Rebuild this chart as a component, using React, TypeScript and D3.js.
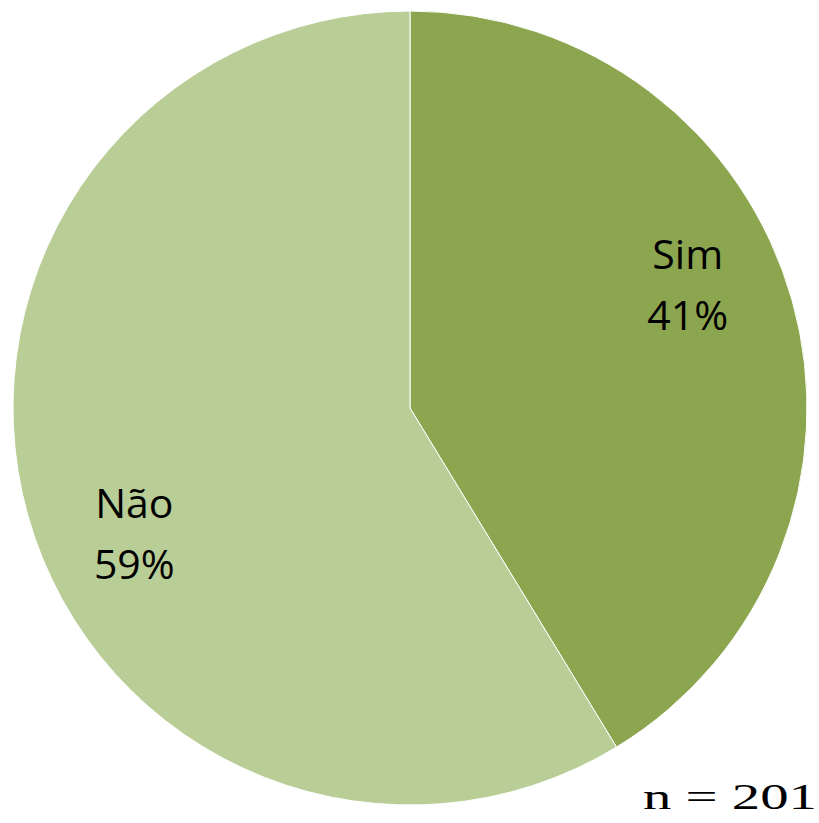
import React from "react";
import * as d3 from "d3";

const categories = ["Sim", "Não"];
const values = [83, 118];
const colors = ["#8BA64F", "#B9CE96"];
const totalLabel = "n = 201";

const W = 819;
const H = 823;
const cx = 410;
const cy = 408;
const R = 397;
// layout: label radius and per-slice nudge (px) to mimic the original placement
const LABEL_R = 304;
const labelNudge: [number, number][] = [
  [-15, -41],
  [17, 44],
];

export default function App() {
  const total = d3.sum(values);
  const pie = d3
    .pie<number>()
    .sort(null)
    .value((d) => d);
  const arcs = pie(values);
  const arcGen = d3.arc<d3.PieArcDatum<number>>().innerRadius(0).outerRadius(R);
  const labelArc = d3
    .arc<d3.PieArcDatum<number>>()
    .innerRadius(LABEL_R)
    .outerRadius(LABEL_R);

  return (
    <svg
      width={W}
      height={H}
      style={{ position: "absolute", left: 0, top: 0 }}
    >
      <rect width={W} height={H} fill="#ffffff" />
      <g transform={`translate(${cx},${cy})`}>
        {arcs.map((a, i) => (
          <path
            key={categories[i]}
            d={arcGen(a) || ""}
            fill={colors[i]}
            stroke="#ffffff"
            strokeWidth={1}
          />
        ))}
        {arcs.map((a, i) => {
          const [x0, y0] = labelArc.centroid(a);
          const lx = x0 + labelNudge[i][0];
          const ly = y0 + labelNudge[i][1];
          const pct = Math.round((values[i] / total) * 100) + "%";
          return (
            <text
              key={"l" + i}
              textAnchor="middle"
              fontFamily="'Open Sans', 'Noto Sans', sans-serif"
              fontSize={41}
              fill="#000000"
            >
              <tspan x={lx} y={ly - 16}>
                {categories[i]}
              </tspan>
              <tspan x={lx} y={ly + 45}>
                {pct}
              </tspan>
            </text>
          );
        })}
      </g>
      <text
        x={643}
        y={809}
        fontFamily="'Liberation Serif', 'DejaVu Serif', serif"
        fontSize={35}
        textLength={174}
        lengthAdjust="spacingAndGlyphs"
        fill="#000000"
      >
        {totalLabel}
      </text>
    </svg>
  );
}
